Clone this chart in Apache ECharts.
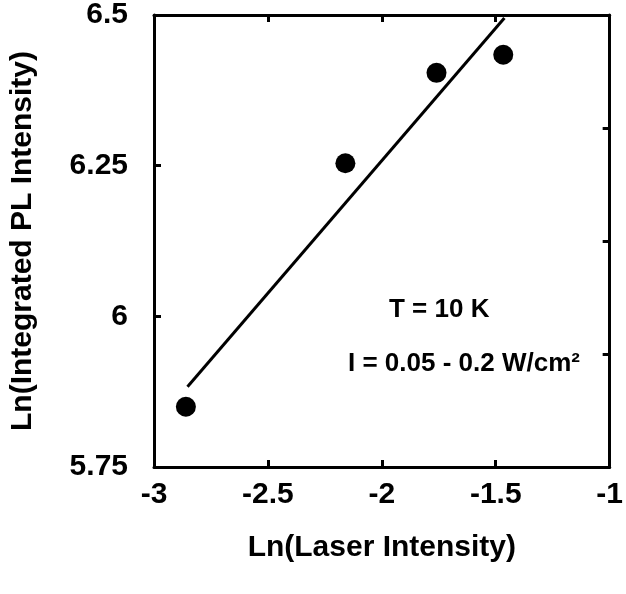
<!DOCTYPE html>
<html>
<head>
<meta charset="utf-8">
<script src="https://cdn.jsdelivr.net/npm/echarts@6/dist/echarts.min.js"></script>
<style>html,body{margin:0;padding:0;background:#fff}#c{width:626px;height:594px}</style>
</head>
<body>
<div id="c"></div>
<script>
const laserLn = [-2.86, -2.16, -1.76, -1.467];
const plLn = [5.850, 6.254, 6.404, 6.434];
const fitX = [-2.853, -1.462];
const fitY = [5.883, 6.495];
const xTicks = [-3, -2.5, -2, -1.5, -1];
const yTicks = [5.75, 6, 6.25, 6.5];
const annotation1 = 'T = 10 K';
const annotation2 = 'I = 0.05 - 0.2 W/cm²';

const FONT = '"Liberation Sans", Arial, sans-serif';
const chart = echarts.init(document.getElementById('c'), null, {renderer: 'canvas'});
const axisLine = {show: true, lineStyle: {color: '#000', width: 3}};
const axisTick = {show: true, inside: true, length: 7, lineStyle: {color: '#000', width: 3}};
chart.setOption({
  animation: false,
  backgroundColor: '#fff',
  grid: {left: 153, right: 9, top: 15, bottom: 127},
  xAxis: [{
    type: 'value', min: -3, max: -1, interval: 0.5, position: 'bottom',
    axisLine, axisTick, splitLine: {show: false},
    axisLabel: {color: '#000', fontFamily: FONT, fontWeight: 'bold', fontSize: 30, margin: 13,
      formatter: v => String(parseFloat(v.toFixed(2)))},
    name: 'Ln(Laser Intensity)', nameLocation: 'middle', nameGap: 66,
    nameTextStyle: {color: '#000', fontFamily: FONT, fontWeight: 'bold', fontSize: 30}
  }, {
    type: 'value', min: -3, max: -1, interval: 0.5, position: 'top',
    axisLine, axisTick, axisLabel: {show: false}, splitLine: {show: false}
  }],
  yAxis: [{
    type: 'value', min: 5.75, max: 6.5, interval: 0.25, position: 'left',
    axisLine, axisTick, splitLine: {show: false},
    axisLabel: {color: '#000', fontFamily: FONT, fontWeight: 'bold', fontSize: 30, margin: 26,
      formatter: v => String(parseFloat(v.toFixed(2)))},
    name: 'Ln(Integrated PL Intensity)', nameLocation: 'middle', nameGap: 116,
    nameTextStyle: {color: '#000', fontFamily: FONT, fontWeight: 'bold', fontSize: 30}
  }, {
    type: 'value', min: 0, max: 4, interval: 1, position: 'right',
    axisLine, axisTick, axisLabel: {show: false}, splitLine: {show: false}
  }],
  series: [{
    type: 'line', data: fitX.map((x, i) => [x, fitY[i]]),
    symbol: 'none', lineStyle: {color: '#000', width: 3}, z: 2
  }, {
    type: 'scatter', data: laserLn.map((x, i) => [x, plLn[i]]),
    symbol: 'circle', symbolSize: 20, itemStyle: {color: '#000', opacity: 1}, z: 3
  }],
  graphic: [{
    type: 'text', left: 389, top: 297,
    style: {text: annotation1, fill: '#000', font: 'bold 26px ' + FONT}
  }, {
    type: 'text', left: 348, top: 351,
    style: {text: annotation2, fill: '#000', font: 'bold 26px ' + FONT}
  }]
});
</script>
</body>
</html>
